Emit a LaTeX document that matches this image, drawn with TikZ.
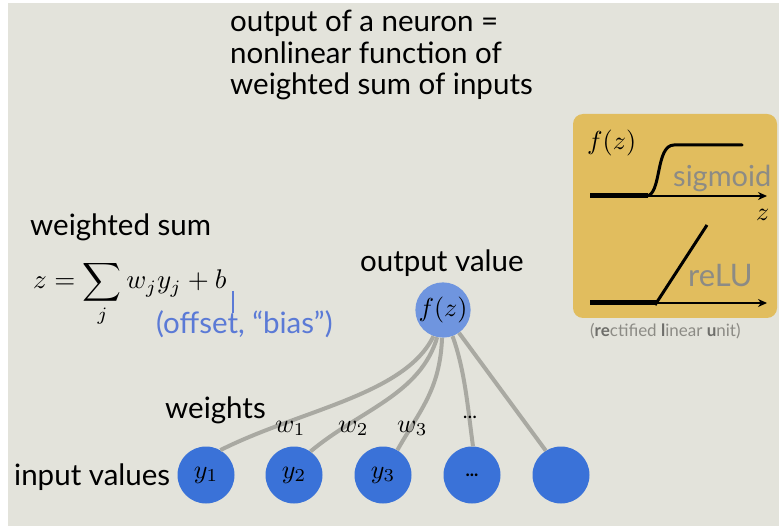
\documentclass[tikz,border=0pt]{standalone}
\usepackage{graphicx}
\usepackage{fontspec}
\setmainfont{Lato}
\usetikzlibrary{arrows.meta}
\definecolor{bg}{HTML}{E3E3DB}
\definecolor{boxy}{HTML}{E1BD5E}
\definecolor{inblue}{HTML}{3A72D8}
\definecolor{outblue}{HTML}{6F95DF}
\definecolor{wiregray}{HTML}{A9A9A2}
\definecolor{txtblue}{HTML}{5B7AD6}
\definecolor{lgray}{HTML}{8C8B85}
\definecolor{dgray}{HTML}{6E6E6A}
\newcommand{\mbig}[1]{\scalebox{2.6}{#1}}
\begin{document}
\begin{tikzpicture}[x=1pt,y=-1pt,
  lbl/.style={inner sep=0pt, anchor=base west, font=\fontsize{29.5}{32}\selectfont},
  mth/.style={inner sep=0pt},
  inp/.style={circle, fill=inblue, minimum size=57pt, inner sep=0pt},
  wire/.style={draw=wiregray, line width=4pt},
  axis/.style={draw=black, line width=1.8pt, -{Stealth[length=9pt,width=8pt]}},
  thickline/.style={draw=black, line width=5pt},
  curveline/.style={draw=black, line width=3pt}]
\useasboundingbox (0,0) rectangle (779,526);
\fill[white] (0,0) rectangle (779,526);
\fill[bg] (8,3) rectangle (779,526);
% title
\node[lbl] (t1) at (230,32) {output of a neuron =};
\node[lbl] (t2) at (230,63.5) {nonlinear function of};
\node[lbl] (t3) at (230,95) {weighted sum of inputs};
% function box
\fill[boxy, rounded corners=10pt] (573,114) rectangle (777,318);
\node[mth, anchor=base west] (fzl) at (587,150) {\mbig{$f(z)$}};
\draw[axis] (590,196) -- (767,196);
\draw[thickline] (590,196) -- (648,196);
\draw[curveline, line cap=round] (646,196) .. controls (662,196) and (655,145) .. (674,145) -- (742,145);
\node[lbl, text=lgray, font=\fontsize{29}{31}\selectfont] (sig) at (673,187) {sigmoid};
\node[mth, anchor=base west] (zl) at (756,221) {\mbig{$z$}};
\draw[axis] (590,303) -- (767,303);
\draw[thickline] (590,303) -- (657,303);
\draw[curveline] (655,305) -- (707,225);
\node[lbl, text=lgray, font=\fontsize{31}{33}\selectfont] (relu) at (688,287) {reLU};
\node[lbl, text=lgray, font=\fontsize{17}{19}\selectfont] (rlu) at (590,337) {(\textcolor{dgray}{\textbf{re}}ctified \textcolor{dgray}{\textbf{l}}inear \textcolor{dgray}{\textbf{u}}nit)};
% weighted sum
\node[lbl] (ws) at (30,236) {weighted sum};
\node[mth, anchor=base west] (eq) at (33,289) {\scalebox{2.7}{$\displaystyle z=\sum_j w_jy_j+b$}};
\coordinate (bt1) at (233,291);
\coordinate (bt2) at (233,313);
\draw[txtblue, line width=2pt] (bt1) -- (bt2);
\node[lbl, text=txtblue] (bias) at (156,334) {(offset, “bias”)};
% output
\node[lbl] (ov) at (360,272) {output value};
\node[circle, fill=outblue, minimum size=55pt, inner sep=0pt] (fz) at (443,310) {\mbig{$f(z)$}};
% inputs
\node[inp] (y1) at (206,475) {\mbig{$y_1$}};
\node[inp] (y2) at (294,475) {\mbig{$y_2$}};
\node[inp] (y3) at (383,475) {\mbig{$y_3$}};
\node[inp, font=\fontsize{18}{20}\selectfont] (y4) at (472,475) {\textbf{...}};
\node[inp] (y5) at (561,475) {};
% wires
\draw[wire] (fz.250) .. controls (405,395) and (300,410) .. (y1.60);
\draw[wire] (fz.258) .. controls (420,395) and (360,410) .. (y2.55);
\draw[wire] (fz.268) .. controls (440,390) and (420,410) .. (y3.60);
\draw[wire] (fz.290) .. controls (465,370) and (468,410) .. (y4.88);
\draw[wire] (fz.305) -- (y5.122);
% labels
\node[lbl] (wt) at (165,418) {weights};
\node[mth, anchor=base west] (w1) at (275,432) {\mbig{$w_1$}};
\node[mth, anchor=base west] (w2) at (338,432) {\mbig{$w_2$}};
\node[mth, anchor=base west] (w3) at (397,432) {\mbig{$w_3$}};
\node[lbl, font=\fontsize{20}{22}\selectfont, anchor=base] (wd) at (470,418) {...};
\node[lbl] (iv) at (14,485) {input values};
\end{tikzpicture}
\end{document}
